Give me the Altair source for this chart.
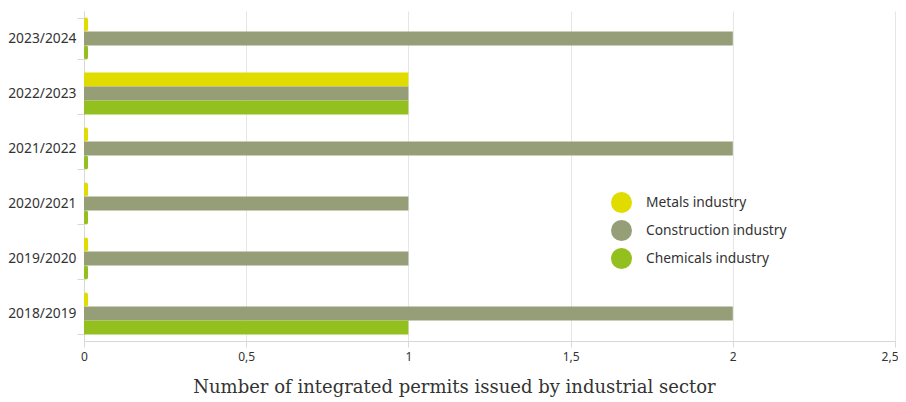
import altair as alt
import pandas as pd

years = ["2023/2024", "2022/2023", "2021/2022", "2020/2021", "2019/2020", "2018/2019"]
series = ["Metals industry", "Construction industry", "Chemicals industry"]
metals = [0, 1, 0, 0, 0, 0]
construction = [2, 1, 2, 1, 1, 2]
chemicals = [0, 1, 0, 0, 0, 1]
colors = ["#e0dc00", "#959e76", "#93c01f"]

rows = []
for s, vals in zip(series, [metals, construction, chemicals]):
    for y, v in zip(years, vals):
        rows.append({"year": y, "series": s, "value": v})
df = pd.DataFrame(rows)

color = alt.Color("series:N", sort=series,
                  scale=alt.Scale(domain=series, range=colors),
                  legend=alt.Legend(title=None, orient="none", legendX=527, legendY=181,
                                    symbolType="circle", symbolSize=440, symbolStrokeWidth=0,
                                    labelFont="Noto Sans", labelFontSize=13.8, labelColor="#333",
                                    rowPadding=7, labelOffset=14))
yenc = alt.Y("year:N", sort=years, title=None,
             scale=alt.Scale(paddingInner=0.24, paddingOuter=0.12),
             axis=alt.Axis(labelFont="Noto Sans", labelFontSize=13.8, labelColor="#333",
                           domainColor="#d8d8d8", tickColor="#d8d8d8", tickBand="extent",
                           tickSize=7, labelPadding=1, grid=False))
yoff = alt.YOffset("series:N", sort=series, scale=alt.Scale(paddingInner=0, paddingOuter=0))

base = alt.Chart(df)
bars = base.transform_filter("datum.value > 0").mark_bar().encode(
    x=alt.X("value:Q", title="Number of integrated permits issued by industrial sector",
            scale=alt.Scale(domain=[0, 2.5], nice=False),
            axis=alt.Axis(values=[0, 0.5, 1, 1.5, 2, 2.5],
                          labelExpr="replace(toString(datum.value), '.', ',')",
                          labelFont="Noto Sans", labelFontSize=12, labelColor="#333",
                          labelFlush=False,
                          labelAlign=alt.condition("datum.value >= 2.5", alt.value("right"), alt.value("center")),
                          labelOffset=alt.condition("datum.value >= 2.5", alt.value(3), alt.value(0)),
                          gridColor="#e6e6e6", domainColor="#d8d8d8", tickColor="#d8d8d8",
                          tickSize=6, labelPadding=4,
                          titleFont="DejaVu Serif", titleFontSize=18, titleFontWeight="normal",
                          titleColor="#333", titleX=370, titleY=51, titleAlign="center",
                          titleBaseline="alphabetic")),
    y=yenc, yOffset=yoff, color=color)
stubs = base.transform_filter("datum.value == 0").mark_bar(cornerRadius=2).encode(
    x=alt.value(0), x2=alt.value(4), y=yenc, yOffset=yoff, color=color)

chart = alt.layer(bars, stubs).properties(
    width=811, height=330,
    autosize=alt.AutoSizeParams(type="none"),
    padding={"left": 76, "top": 3, "right": 3, "bottom": 58}
).configure_view(stroke=None).configure_axis(labelFontWeight="normal")

chart.save("out.html", embed_options={"renderer": "svg", "actions": False})
